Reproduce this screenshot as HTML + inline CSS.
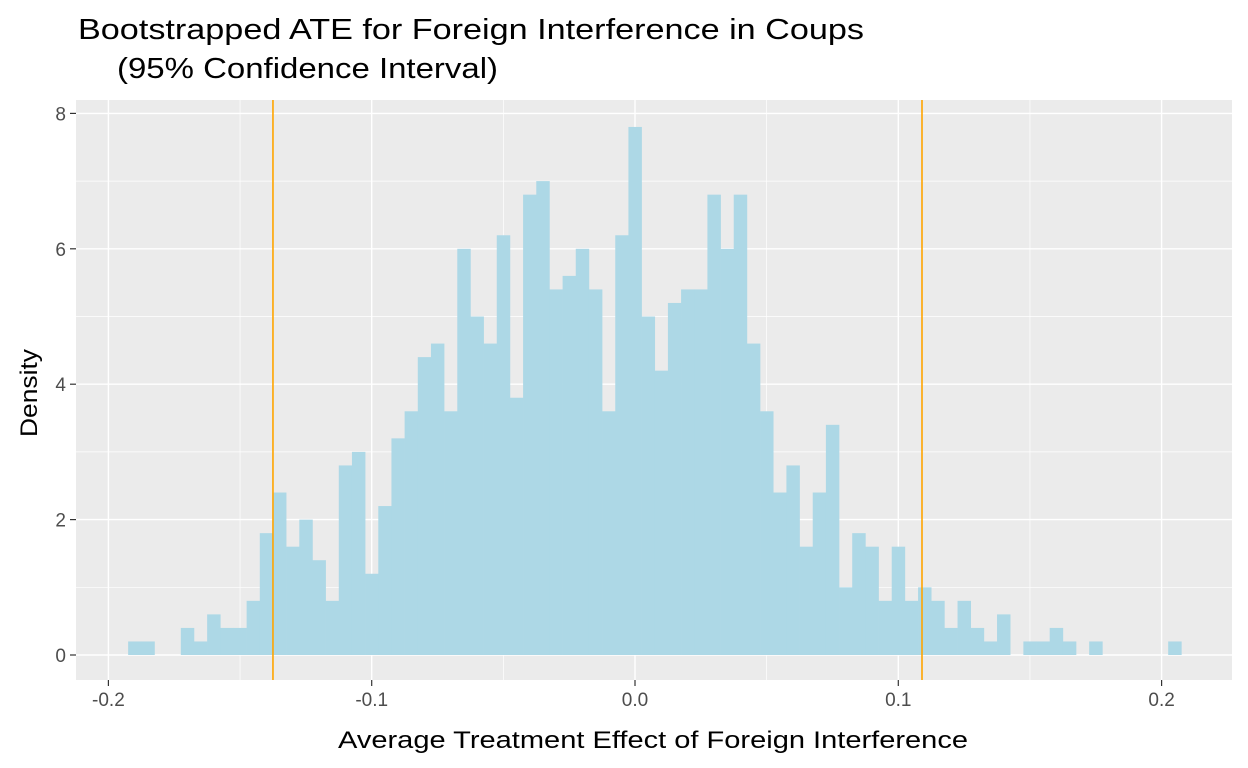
<!DOCTYPE html>
<html><head><meta charset="utf-8"><style>
body{margin:0;background:#fff;}
svg{display:block;font-family:"Liberation Sans",Arial,sans-serif;}
</style></head><body>
<svg id="chart" width="1248" height="768" viewBox="0 0 1248 768">
<text x="78" y="39" font-size="29" fill="#000" textLength="786" lengthAdjust="spacingAndGlyphs">Bootstrapped ATE for Foreign Interference in Coups</text>
<text x="117" y="78" font-size="29" fill="#000" textLength="381" lengthAdjust="spacingAndGlyphs">(95% Confidence Interval)</text>
<rect x="76" y="100" width="1156" height="580" fill="#ebebeb"/>
<g id="grid"></g>
<g id="bars"></g>
<g id="vlines"></g>
<g id="axes"></g>
<text x="653" y="748" font-size="24" text-anchor="middle" fill="#000" textLength="630" lengthAdjust="spacingAndGlyphs">Average Treatment Effect of Foreign Interference</text>
<text transform="translate(37,393) rotate(-90)" font-size="24" text-anchor="middle" fill="#000" textLength="88" lengthAdjust="spacingAndGlyphs">Density</text>
</svg>
<script>
const binCenters = [-0.19,-0.185,-0.18,-0.175,-0.17,-0.165,-0.16,-0.155,-0.15,-0.145,-0.14,-0.135,-0.13,-0.125,-0.12,-0.115,-0.11,-0.105,-0.1,-0.095,-0.09,-0.085,-0.08,-0.075,-0.07,-0.065,-0.06,-0.055,-0.05,-0.045,-0.04,-0.035,-0.03,-0.025,-0.02,-0.015,-0.01,-0.005,0,0.005,0.01,0.015,0.02,0.025,0.03,0.035,0.04,0.045,0.05,0.055,0.06,0.065,0.07,0.075,0.08,0.085,0.09,0.095,0.1,0.105,0.11,0.115,0.12,0.125,0.13,0.135,0.14,0.145,0.15,0.155,0.16,0.165,0.17,0.175,0.18,0.185,0.19,0.195,0.2,0.205];
const densities = [0.2,0.2,0,0,0.4,0.2,0.6,0.4,0.4,0.8,1.8,2.4,1.6,2.0,1.4,0.8,2.8,3.0,1.2,2.2,3.2,3.6,4.4,4.6,3.6,6.0,5.0,4.6,6.2,3.8,6.8,7.0,5.4,5.6,6.0,5.4,3.6,6.2,7.8,5.0,4.2,5.2,5.4,5.4,6.8,6.0,6.8,4.6,3.6,2.4,2.8,1.6,2.4,3.4,1.0,1.8,1.6,0.8,1.6,0.8,1.0,0.8,0.4,0.8,0.4,0.2,0.6,0,0.2,0.2,0.4,0.2,0,0.2,0,0,0,0,0,0.2];
const binWidth = 0.005;
const ciBounds = [-0.1375,0.109];
const xTicks = [-0.2,-0.1,0,0.1,0.2];
const xTickLabels = ["-0.2","-0.1","0.0","0.1","0.2"];
const yTicks = [0,2,4,6,8];
const yTickLabels = ["0","2","4","6","8"];

const NS="http://www.w3.org/2000/svg";
const X = v => 635 + v*2633;
const Y = v => 655 - v*67.7;
function mk(tag, attrs, parent){const e=document.createElementNS(NS,tag);for(const k in attrs)e.setAttribute(k,attrs[k]);document.getElementById(parent).appendChild(e);return e;}

for(let v=-0.15; v<=0.16; v+=0.1){const l=mk('line',{x1:X(v),x2:X(v),y1:100,y2:680,stroke:'#fff','stroke-width':0.7},'grid');

}
for(let v=1; v<=7; v+=2){const l=mk('line',{x1:76,x2:1232,y1:Y(v),y2:Y(v),stroke:'#fff','stroke-width':0.7},'grid');

}
xTicks.forEach((v,i)=>{const l=mk('line',{x1:X(v),x2:X(v),y1:100,y2:680,stroke:'#fff','stroke-width':1.4},'grid');


const t=mk('line',{x1:X(v),x2:X(v),y1:680,y2:686,stroke:'#333','stroke-width':1.2},'axes');


const tx=mk('text',{x:X(v),y:706,'font-size':19,'text-anchor':'middle',fill:'#4d4d4d'},'axes');
tx.textContent=xTickLabels[i];

});
yTicks.forEach((v,i)=>{const l=mk('line',{x1:76,x2:1232,y1:Y(v),y2:Y(v),stroke:'#fff','stroke-width':1.4},'grid');


const t=mk('line',{x1:70,x2:76,y1:Y(v),y2:Y(v),stroke:'#333','stroke-width':1.2},'axes');


const tx=mk('text',{x:66,y:Y(v)+7,'font-size':19,'text-anchor':'end',fill:'#4d4d4d'},'axes');
tx.textContent=yTickLabels[i];

});
binCenters.forEach((c,i)=>{const d=densities[i]; if(d<=0) return;
const x0=X(c-binWidth/2), x1=X(c+binWidth/2);
const r=mk('rect',{x:x0,y:Y(d),width:x1-x0+0.3,height:Y(0)-Y(d),fill:'#add8e6'},'bars');

});
ciBounds.forEach(v=>{const l=mk('line',{x1:X(v),x2:X(v),y1:100,y2:680,stroke:'#ffa500','stroke-width':1.6},'vlines');

});
</script>
</body></html>
